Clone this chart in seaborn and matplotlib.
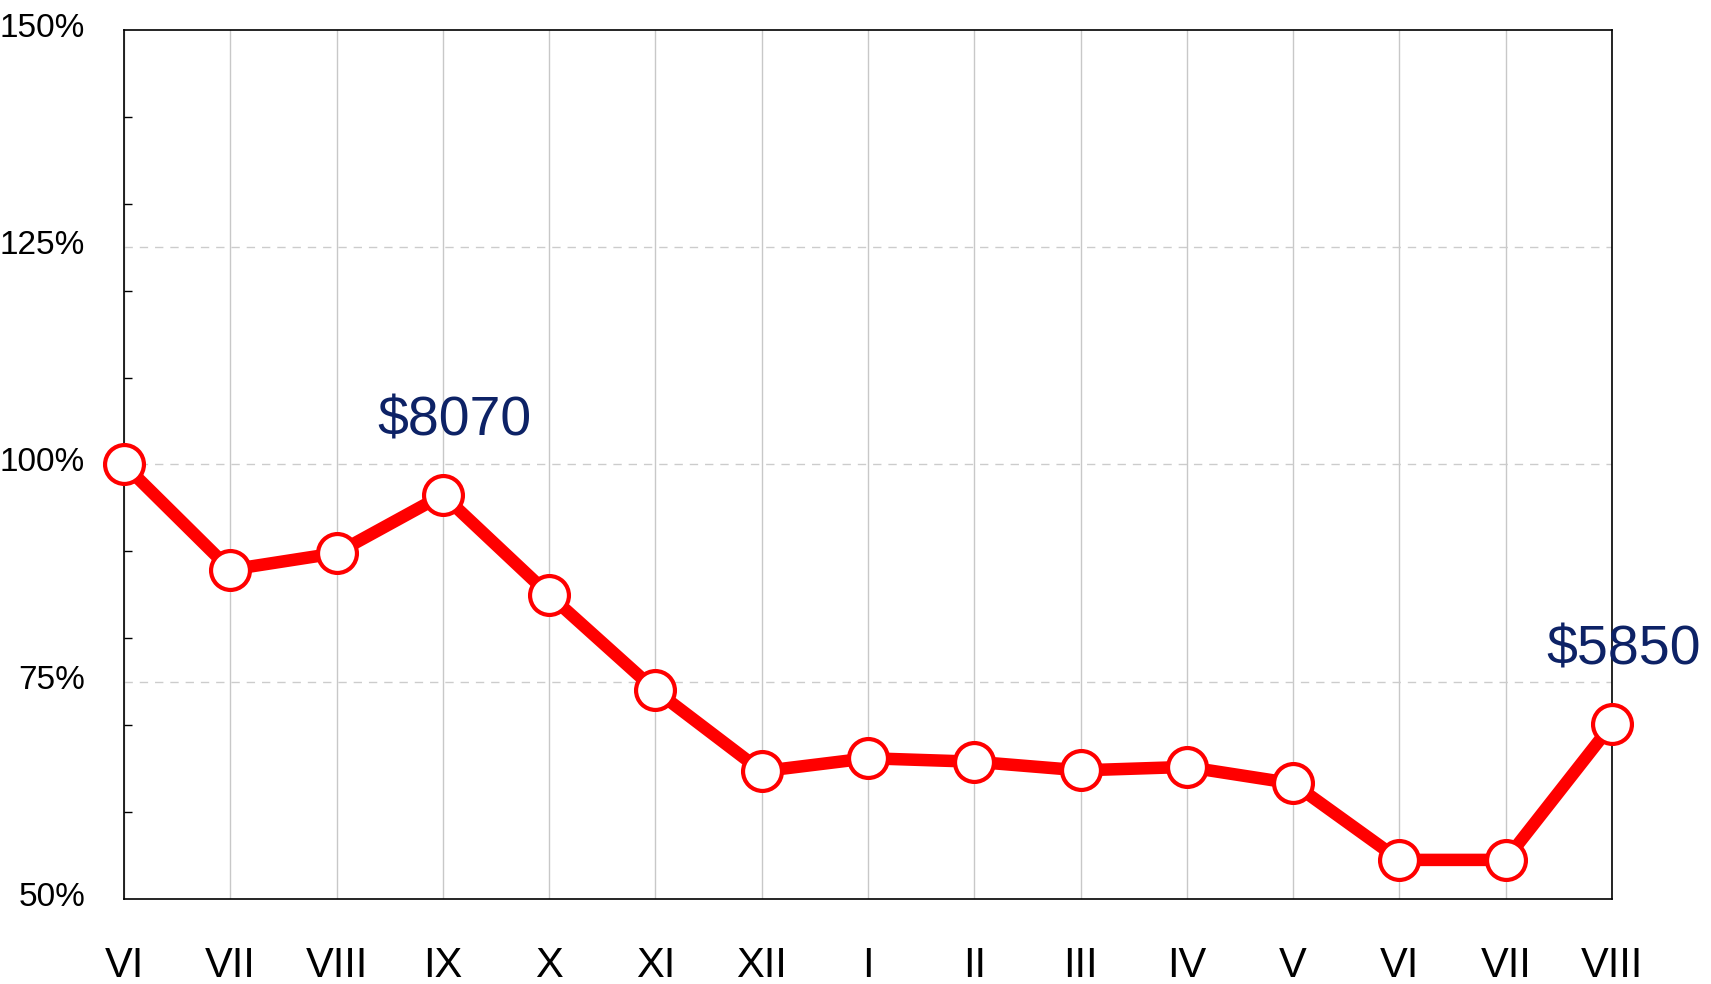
import matplotlib
matplotlib.use("Agg")
import matplotlib.pyplot as plt
import matplotlib.transforms as mtransforms
from matplotlib.ticker import FixedLocator
import seaborn as sns
import pandas as pd

# datos
meses = ["VI", "VII", "VIII", "IX", "X", "XI", "XII", "I", "II", "III", "IV", "V", "VI", "VII", "VIII"]
valores = [100.0, 87.9, 89.8, 96.5, 85.0, 74.0, 64.7, 66.2, 65.8, 64.8, 65.2, 63.3, 54.5, 54.5, 70.1]
ticks_y = [50, 75, 100, 125, 150]
etiquetas = {3: "$8070", 14: "$5850"}

df = pd.DataFrame({"pos": range(len(meses)), "valor": valores})

sns.set_style("white")
plt.rcParams['font.family'] = ['Liberation Sans Narrow', 'Liberation Sans', 'DejaVu Sans']
plt.rcParams['text.color'] = 'black'
plt.rcParams['xtick.color'] = 'black'
plt.rcParams['ytick.color'] = 'black'

fig = plt.figure(figsize=(17.11, 9.84), dpi=100)
ax = fig.add_axes([124 / 1711, 1 - 899 / 984, 1488 / 1711, 869 / 984])

sns.lineplot(data=df, x="pos", y="valor", ax=ax, color="#ff0000", linewidth=9,
             marker="o", markersize=28, markerfacecolor="white",
             markeredgecolor="#ff0000", markeredgewidth=3, clip_on=False, zorder=5)

ax.set_xlim(0, len(meses) - 1)
ax.set_ylim(50, 150)
ax.set_xlabel("")
ax.set_ylabel("")

ax.set_xticks(range(len(meses)))
ax.set_xticklabels(meses, fontsize=30)
ax.yaxis.set_major_locator(FixedLocator(ticks_y))
ax.set_yticklabels([f"{v}%" for v in ticks_y], fontsize=24)
ax.yaxis.set_minor_locator(FixedLocator([60, 70, 80, 90, 110, 120, 130, 140]))

ax.tick_params(axis="x", direction="out", length=8, width=1, pad=26, labelcolor="black")
ax.tick_params(axis="y", which="major", direction="out", length=10, width=1, pad=18, labelcolor="black")
ax.tick_params(axis="y", which="minor", direction="in", length=6, width=1, left=True)

# las etiquetas del eje y van un poco por encima de la marca
subir = mtransforms.ScaledTranslation(0, 5 / 100, fig.dpi_scale_trans)
for lbl in ax.get_yticklabels():
    lbl.set_transform(lbl.get_transform() + subir)

ax.grid(False)
ax.xaxis.grid(True, color="#c8c8c8", linewidth=1, linestyle="-")
for v in [75, 100, 125]:
    ax.axhline(v, color="#cccccc", linewidth=1, linestyle=(0, (6, 5)), zorder=1)

for s in ax.spines.values():
    s.set_color("black")
    s.set_linewidth(1.2)

for i, txt in etiquetas.items():
    ax.annotate(txt, (i, valores[i]), xytext=(8, 53), textcoords="offset points",
                ha="center", va="center", fontsize=40, color="#0d2266",
                family=["Liberation Sans", "DejaVu Sans"], annotation_clip=False, zorder=6)

fig.savefig("out.png", dpi=100)
